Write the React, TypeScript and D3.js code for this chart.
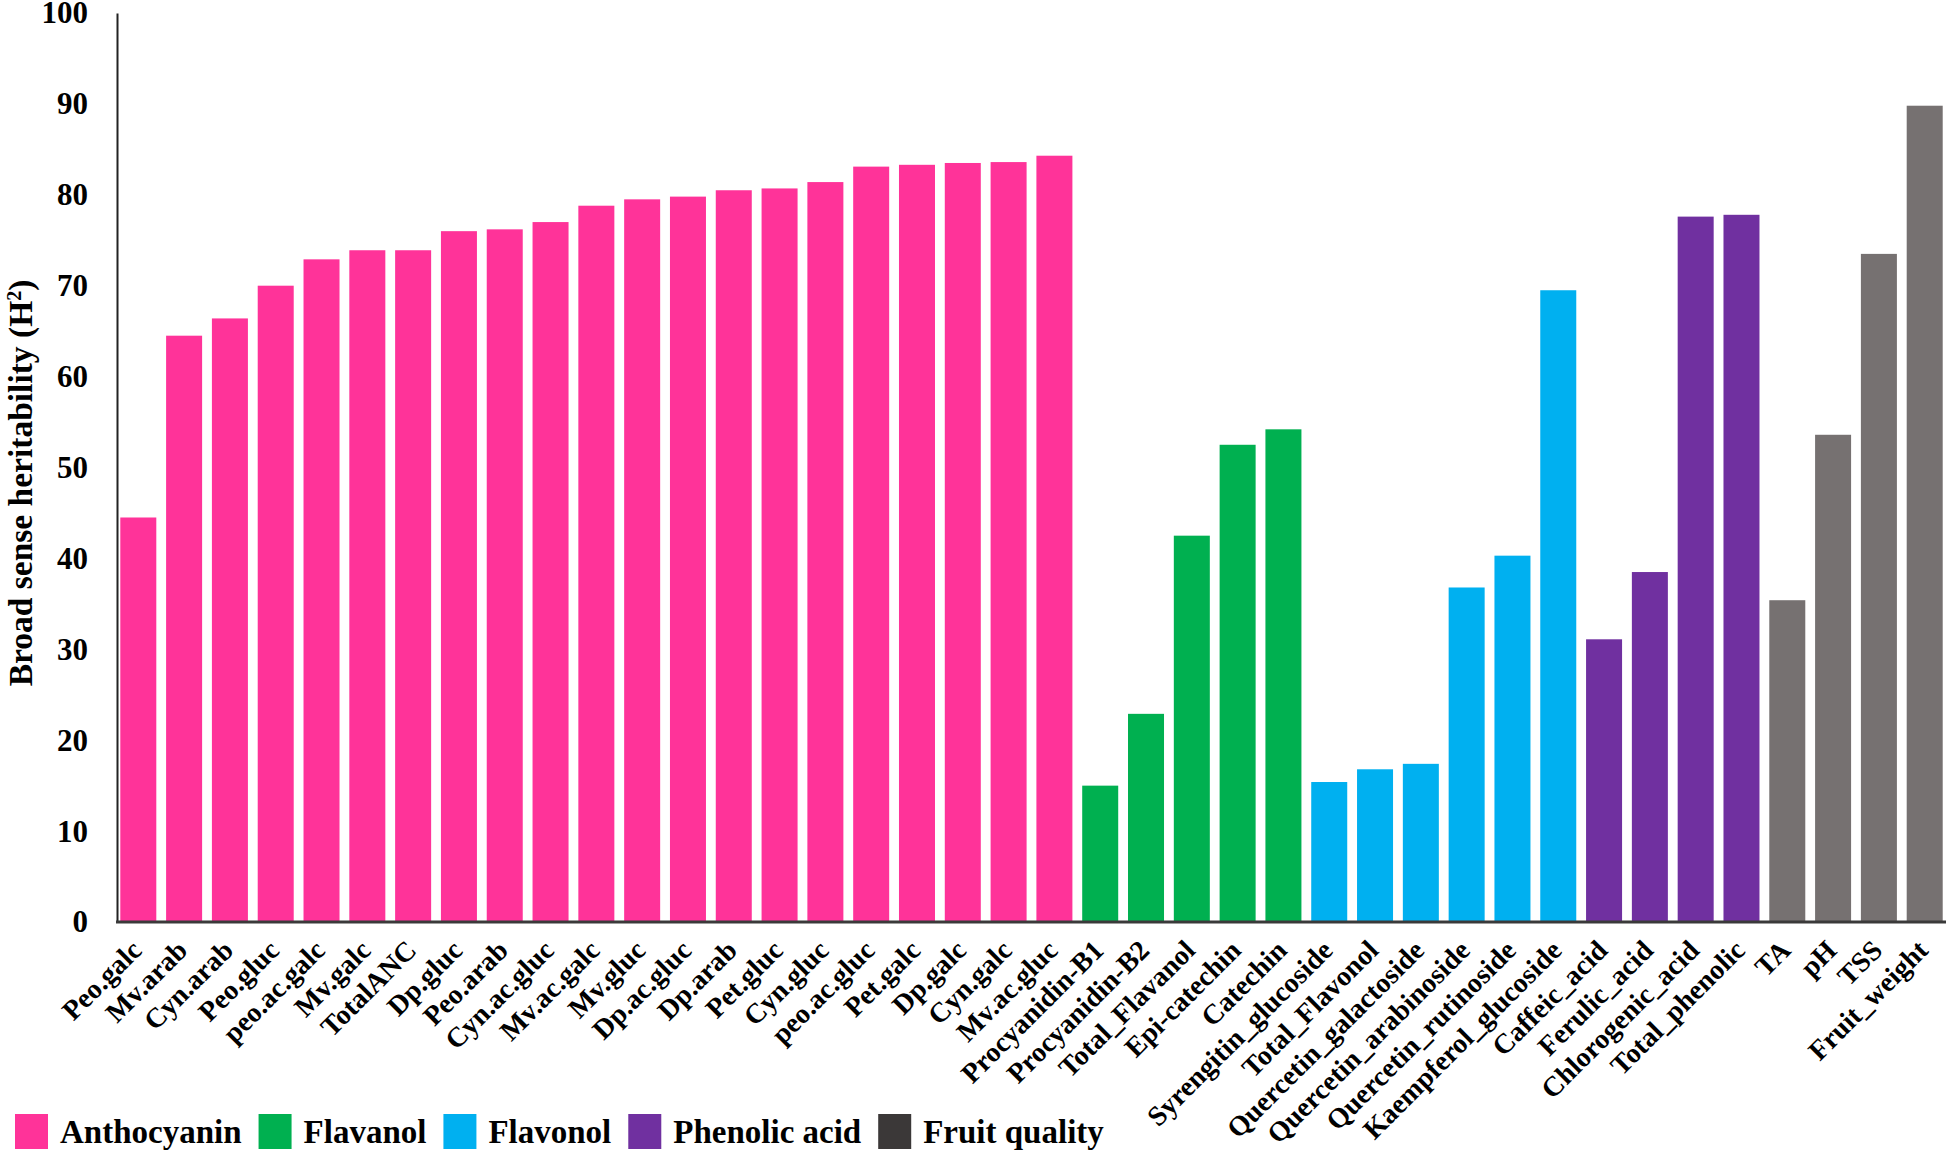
import * as d3 from "d3";
import { useEffect, useRef } from "react";

const WIDTH = 1950;
const HEIGHT = 1155;
const FONT = '"Liberation Serif", "Times New Roman", serif';

// trait names, left to right
const traits = [
  "Peo.galc", "Mv.arab", "Cyn.arab", "Peo.gluc", "peo.ac.galc", "Mv.galc", "TotalANC",
  "Dp.gluc", "Peo.arab", "Cyn.ac.gluc", "Mv.ac.galc", "Mv.gluc", "Dp.ac.gluc", "Dp.arab",
  "Pet.gluc", "Cyn.gluc", "peo.ac.gluc", "Pet.galc", "Dp.galc", "Cyn.galc", "Mv.ac.gluc",
  "Procyanidin-B1", "Procyanidin-B2", "Total_Flavanol", "Epi-catechin", "Catechin",
  "Syrengitin_glucoside", "Total_Flavonol", "Quercetin_galactoside", "Quercetin_arabinoside",
  "Quercetin_rutinoside", "Kaempferol_glucoside",
  "Caffeic_acid", "Ferulic_acid", "Chlorogenic_acid", "Total_phenolic",
  "TA", "pH", "TSS", "Fruit_weight",
];

// broad sense heritability (%)
const heritability = [
  44.5, 64.5, 66.4, 70.0, 72.9, 73.9, 73.9, 76.0, 76.2, 77.0, 78.8, 79.5, 79.8, 80.5,
  80.7, 81.4, 83.1, 83.3, 83.5, 83.6, 84.3,
  15.0, 22.9, 42.5, 52.5, 54.2,
  15.4, 16.8, 17.4, 36.8, 40.3, 69.5,
  31.1, 38.5, 77.6, 77.8,
  35.4, 53.6, 73.5, 89.8,
];

// group of each trait
const traitGroup = [
  ...Array(21).fill("Anthocyanin"),
  ...Array(5).fill("Flavanol"),
  ...Array(6).fill("Flavonol"),
  ...Array(4).fill("Phenolic acid"),
  ...Array(4).fill("Fruit quality"),
];

const groupNames = ["Anthocyanin", "Flavanol", "Flavonol", "Phenolic acid", "Fruit quality"];
const barColors = ["#FF3399", "#00B050", "#00B0F0", "#7030A0", "#767171"];
const legendColors = ["#FF3399", "#00B050", "#00B0F0", "#7030A0", "#3B3838"];

const yTicks = [0, 10, 20, 30, 40, 50, 60, 70, 80, 90, 100];

const App = () => {
  const ref = useRef<SVGSVGElement | null>(null);

  useEffect(() => {
    if (!ref.current) return;
    const svg = d3.select(ref.current);
    svg.selectAll("*").remove();

    const x = d3
      .scaleBand<string>()
      .domain(traits)
      .range([117, 1946])
      .paddingInner(0.214)
      .paddingOuter(0.072);
    const y = d3.scaleLinear([0, 100], [922, 13]);
    const color = d3.scaleOrdinal<string, string>(groupNames, barColors);

    // bars
    svg
      .append("g")
      .selectAll("rect")
      .data(traits)
      .join("rect")
      .attr("x", (d) => x(d) as number)
      .attr("width", x.bandwidth())
      .attr("y", (_, i) => y(heritability[i]))
      .attr("height", (_, i) => y(0) - y(heritability[i]))
      .attr("fill", (_, i) => color(traitGroup[i]));

    // y axis
    const yAxis = svg
      .append("g")
      .attr("transform", "translate(117,0)")
      .call(d3.axisLeft(y).tickValues(yTicks).tickSize(0).tickPadding(29).tickFormat(d3.format("d")));
    yAxis.select(".domain").attr("stroke", "#222").attr("stroke-width", 2);
    yAxis
      .selectAll("text")
      .attr("font-family", FONT)
      .attr("font-weight", "bold")
      .attr("font-size", 31)
      .attr("fill", "#000");

    // x axis line
    svg
      .append("line")
      .attr("x1", 116)
      .attr("x2", 1946)
      .attr("y1", y(0))
      .attr("y2", y(0))
      .attr("stroke", "#3a3a3a")
      .attr("stroke-width", 3);

    // x labels
    svg
      .append("g")
      .selectAll("text")
      .data(traits)
      .join("text")
      .attr(
        "transform",
        (d) => `translate(${(x(d) as number) + x.bandwidth() / 2 + 5},952) rotate(-45)`
      )
      .attr("text-anchor", "end")
      .attr("font-family", FONT)
      .attr("font-weight", "bold")
      .attr("font-size", 28)
      .attr("fill", "#000")
      .text((d) => d);

    // y label
    const yl = svg
      .append("text")
      .attr("transform", "translate(32,483) rotate(-90)")
      .attr("text-anchor", "middle")
      .attr("font-family", FONT)
      .attr("font-weight", "bold")
      .attr("font-size", 33.5)
      .attr("fill", "#000");
    yl.append("tspan").text("Broad sense heritability (H");
    yl.append("tspan").attr("baseline-shift", "super").attr("font-size", 20).text("2");
    yl.append("tspan").text(")");

    // legend
    const legend = svg.append("g");
    let lx = 15;
    groupNames.forEach((name, i) => {
      legend
        .append("rect")
        .attr("x", lx)
        .attr("y", 1114)
        .attr("width", 33)
        .attr("height", 35)
        .attr("fill", legendColors[i]);
      const t = legend
        .append("text")
        .attr("x", lx + 45)
        .attr("y", 1143)
        .attr("font-family", FONT)
        .attr("font-weight", "bold")
        .attr("font-size", 33)
        .attr("fill", "#000")
        .text(name);
      const w = (t.node() as SVGTextElement).getComputedTextLength();
      lx = lx + 45 + w + 17;
    });
  }, []);

  return (
    <svg
      ref={ref}
      width={WIDTH}
      height={HEIGHT}
      style={{ position: "absolute", left: 0, top: 0, background: "#fff" }}
    />
  );
};

export default App;
